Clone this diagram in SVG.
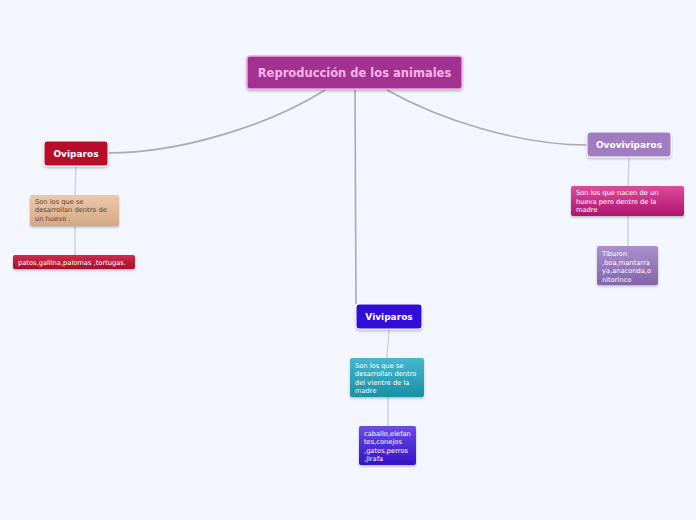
<svg xmlns="http://www.w3.org/2000/svg" width="696" height="520" viewBox="0 0 696 520">
<style>
.t{font-family:"DejaVu Sans",Verdana,sans-serif}
.b{font-weight:bold;font-size:9px;fill:#ffffff;text-anchor:middle}
.s{font-size:6.7px}
.c{fill:none;stroke:#a9abb3;stroke-width:1.6}
.c2{fill:none;stroke:#c8cad2;stroke-width:1.2}
</style>
<defs>
<filter id="sh" x="-10%" y="-20%" width="120%" height="150%"><feDropShadow dx="0" dy="1.5" stdDeviation="1" flood-color="#000" flood-opacity="0.25"/></filter>
<linearGradient id="g1" x1="0" y1="0" x2="0" y2="1"><stop offset="0" stop-color="#ecc8aa"/><stop offset="1" stop-color="#d4a886"/></linearGradient>
<linearGradient id="g2" x1="0" y1="0" x2="0" y2="1"><stop offset="0" stop-color="#cc2c4c"/><stop offset="1" stop-color="#a8102c"/></linearGradient>
<linearGradient id="g3" x1="0" y1="0" x2="0" y2="1"><stop offset="0" stop-color="#dc4c9c"/><stop offset="1" stop-color="#b01470"/></linearGradient>
<linearGradient id="g4" x1="0" y1="0" x2="0" y2="1"><stop offset="0" stop-color="#ac90cc"/><stop offset="1" stop-color="#8264aa"/></linearGradient>
<linearGradient id="g5" x1="0" y1="0" x2="0" y2="1"><stop offset="0" stop-color="#46b8cc"/><stop offset="1" stop-color="#1890a6"/></linearGradient>
<linearGradient id="g6" x1="0" y1="0" x2="0" y2="1"><stop offset="0" stop-color="#6c4ce6"/><stop offset="1" stop-color="#3412c4"/></linearGradient>
</defs>
<rect width="696" height="520" fill="#f3f6fd"/>
<g id="connectors">
<path class="c" d="M325,90 C270,125 180,153 108,153"/>
<path class="c" d="M355,90 C355,200 356,260 356,304"/>
<path class="c" d="M387,90 C440,120 520,145 587,145"/>
<path class="c2" d="M76,166 L75,195"/>
<path class="c2" d="M75,226 L75,255"/>
<path class="c2" d="M629,157 L628,186"/>
<path class="c2" d="M628,216 L628,246"/>
<path class="c2" d="M389,329 C389,345 387,345 387,358"/>
<path class="c2" d="M388,397 L388,426"/>
</g>
<g id="root">
<rect x="247" y="56" width="215" height="33" rx="3" fill="#a2308f" stroke="#f3a4ea" stroke-width="1.5" filter="url(#sh)"/>
<text class="t" x="354.5" y="77" text-anchor="middle" font-weight="bold" font-size="11.5" fill="#f7b4ea">Reproducción de los animales</text>
</g>
<g id="oviparos">
<rect x="44" y="141" width="64" height="25" rx="3" fill="#b70b2b" stroke="#ffffff" stroke-width="1" filter="url(#sh)"/>
<text class="t b" x="76" y="157">Oviparos</text>
</g>
<g id="oviparos-desc">
<rect x="30" y="195" width="89" height="31" rx="2" fill="url(#g1)" filter="url(#sh)"/>
<text class="t s" fill="#5a4230"><tspan x="35" y="204">Son los que se</tspan><tspan x="35" y="212">desarrollan dentro de</tspan><tspan x="35" y="220.5">un huevo .</tspan></text>
</g>
<g id="oviparos-ej">
<rect x="13" y="255" width="122" height="14" rx="2" fill="url(#g2)" filter="url(#sh)"/>
<text class="t s" fill="#ffffff" x="18" y="264.5">patos,gallina,palomas ,tortugas.</text>
</g>
<g id="ovoviviparos">
<rect x="587" y="132" width="84" height="25" rx="3" fill="#a07dc0" stroke="#ffffff" stroke-width="1" filter="url(#sh)"/>
<text class="t b" x="629" y="148">Ovoviviparos</text>
</g>
<g id="ovoviviparos-desc">
<rect x="571" y="186" width="113" height="30" rx="2" fill="url(#g3)" filter="url(#sh)"/>
<text class="t s" fill="#ffffff"><tspan x="576" y="195">Son los que nacen de un</tspan><tspan x="576" y="203.5">hueva pero dentro de la</tspan><tspan x="576" y="212">madre</tspan></text>
</g>
<g id="ovoviviparos-ej">
<rect x="597" y="246" width="61" height="39" rx="2" fill="url(#g4)" filter="url(#sh)"/>
<text class="t s" fill="#ffffff"><tspan x="602" y="256">Tiburon</tspan><tspan x="602" y="264.5">,boa,mantarra</tspan><tspan x="602" y="273">ya,anaconda,o</tspan><tspan x="602" y="281.5">nitorinco</tspan></text>
</g>
<g id="viviparos">
<rect x="356" y="304" width="66" height="25" rx="3" fill="#3210d8" stroke="#ffffff" stroke-width="1" filter="url(#sh)"/>
<text class="t b" x="389" y="320">Viviparos</text>
</g>
<g id="viviparos-desc">
<rect x="350" y="358" width="74" height="39" rx="2" fill="url(#g5)" filter="url(#sh)"/>
<text class="t s" fill="#ffffff"><tspan x="355" y="367.5">Son los que se</tspan><tspan x="355" y="376">desarrollan dentro</tspan><tspan x="355" y="384.5">del vientre de la</tspan><tspan x="355" y="393">madre</tspan></text>
</g>
<g id="viviparos-ej">
<rect x="359" y="426" width="57" height="39" rx="2" fill="url(#g6)" filter="url(#sh)"/>
<text class="t s" fill="#ffffff"><tspan x="364" y="435.5">caballo,elefan</tspan><tspan x="364" y="444">tes,conejos</tspan><tspan x="364" y="452.5">,gatos,perros</tspan><tspan x="364" y="461">,jirafa</tspan></text>
</g>
</svg>
